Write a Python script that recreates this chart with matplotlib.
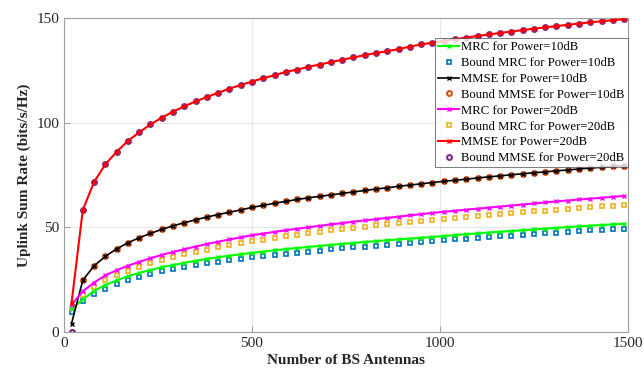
import matplotlib
matplotlib.use('Agg')
import matplotlib.pyplot as plt

plt.rcParams['font.family'] = ['Liberation Serif', 'DejaVu Serif']

# number of BS antennas
antennas = list(range(20, 1491, 30))

mrc_10 = [11.0, 15.5, 19.6, 22.4, 24.6, 26.6, 28.2, 29.6, 30.9, 32.0, 33.0, 34.0, 34.9, 35.7, 36.4, 37.1,
          37.8, 38.4, 39.0, 39.6, 40.1, 40.6, 41.1, 41.6, 42.1, 42.5, 43.0, 43.4, 43.8, 44.2, 44.6, 45.0,
          45.4, 45.8, 46.3, 46.7, 47.1, 47.5, 47.9, 48.2, 48.6, 49.0, 49.4, 49.7, 50.1, 50.4, 50.8, 51.1,
          51.4, 51.7]
bound_mrc_10 = [9.5, 14.7, 18.0, 20.7, 22.9, 24.8, 26.4, 27.8, 29.0, 30.1, 31.1, 32.0, 32.8, 33.6, 34.3, 35.0,
                35.6, 36.2, 36.8, 37.3, 37.9, 38.4, 38.9, 39.4, 39.9, 40.4, 40.8, 41.3, 41.7, 42.1, 42.6, 43.0,
                43.4, 43.8, 44.2, 44.6, 44.9, 45.3, 45.7, 46.0, 46.4, 46.7, 47.1, 47.4, 47.8, 48.1, 48.5, 48.8,
                49.1, 49.4]
mmse_10 = [4.0, 24.7, 31.6, 36.1, 39.7, 42.6, 45.0, 47.1, 49.0, 50.7, 52.2, 53.6, 54.9, 56.1, 57.2, 58.3,
           59.5, 60.5, 61.5, 62.4, 63.3, 64.1, 64.8, 65.5, 66.2, 66.9, 67.6, 68.3, 68.9, 69.6, 70.2, 70.8,
           71.4, 72.0, 72.5, 73.0, 73.6, 74.1, 74.6, 75.1, 75.6, 76.1, 76.5, 77.0, 77.4, 77.9, 78.3, 78.7,
           79.1, 79.5]
bound_mmse_10 = [0.0] + mmse_10[1:]
mrc_20 = [13.0, 19.4, 23.6, 27.0, 29.5, 31.6, 33.5, 35.2, 36.8, 38.2, 39.5, 40.8, 42.0, 43.1, 44.2, 45.2,
          46.2, 47.0, 47.8, 48.6, 49.3, 50.0, 50.7, 51.4, 52.0, 52.7, 53.3, 53.9, 54.5, 55.1, 55.7, 56.3,
          56.9, 57.4, 57.9, 58.4, 58.9, 59.4, 59.9, 60.4, 60.9, 61.4, 61.9, 62.4, 62.8, 63.3, 63.7, 64.1,
          64.6, 65.0]
bound_mrc_20 = [11.6, 17.5, 21.5, 24.7, 27.0, 29.2, 31.1, 32.8, 34.3, 35.7, 37.0, 38.2, 39.3, 40.4, 41.4, 42.4,
                43.3, 44.1, 44.9, 45.7, 46.4, 47.1, 47.8, 48.5, 49.1, 49.7, 50.3, 50.9, 51.5, 52.0, 52.5, 53.0,
                53.5, 54.0, 54.5, 55.0, 55.4, 55.9, 56.3, 56.8, 57.2, 57.6, 58.0, 58.4, 58.8, 59.2, 59.6, 60.0,
                60.4, 60.8]
mmse_20 = [13.7, 58.3, 71.7, 80.1, 86.1, 91.3, 95.4, 99.2, 102.4, 105.3, 107.8, 110.2, 112.3, 114.3,
           116.3, 118.0, 119.7, 121.3, 122.7, 124.3, 125.4, 126.7, 127.8, 129.0, 130.1, 131.2, 132.3, 133.3,
           134.2, 135.2, 136.4, 137.4, 138.3, 139.1, 139.9, 140.7, 141.5, 142.2, 142.9, 143.6, 144.3, 145.0,
           145.6, 146.2, 146.8, 147.4, 148.0, 148.5, 149.0, 149.5]
bound_mmse_20 = [0.0] + mmse_20[1:]

fig = plt.figure(figsize=(6.44, 3.70), dpi=100)
ax = fig.add_axes([0.0994, 0.103, 0.8756, 0.848])

# lines on top of the bound markers
ax.plot(antennas, mrc_10, '-x', color='#00ff00', lw=1.5, ms=2.5, mew=1, label='MRC for Power=10dB', zorder=3)
ax.plot(antennas, bound_mrc_10, 's', color='#0072bd', ms=3.5, mfc='none', mew=1.2, label='Bound MRC for Power=10dB', zorder=2)
ax.plot(antennas, mmse_10, '-x', color='black', lw=1.2, ms=2.5, mew=1, label='MMSE for Power=10dB', zorder=3)
ax.plot(antennas, bound_mmse_10, 'o', color='#d95319', ms=3.5, mfc='none', mew=1.5, label='Bound MMSE for Power=10dB', zorder=2)
ax.plot(antennas, mrc_20, '-x', color='#ff00ff', lw=1.5, ms=2.5, mew=1, label='MRC for Power=20dB', zorder=3)
ax.plot(antennas, bound_mrc_20, 's', color='#edb120', ms=3.5, mfc='none', mew=1.2, label='Bound MRC for Power=20dB', zorder=2)
ax.plot(antennas, mmse_20, '-x', color='red', lw=1.5, ms=2.5, mew=1, label='MMSE for Power=20dB', zorder=3)
ax.plot(antennas, bound_mmse_20, 'o', color='#7e2f8e', ms=3.5, mfc='none', mew=1.5, label='Bound MMSE for Power=20dB', zorder=2)

ax.set_xlim(0, 1500)
ax.set_ylim(0, 150)
ax.set_xticks([0, 500, 1000, 1500])
ax.set_yticks([0, 50, 100, 150])
ax.grid(True, color='#e6e6e6', lw=0.8)
ax.set_axisbelow(True)
for s in ax.spines.values():
    s.set_color('#a0a0a0')
ax.tick_params(direction='in', colors='#a0a0a0', labelcolor='#262626', labelsize=11, length=4)
ax.set_xlabel('Number of BS Antennas', fontsize=11, fontweight='bold', color='#262626', labelpad=3)
ax.set_ylabel('Uplink Sum Rate (bits/s/Hz)', fontsize=11, fontweight='bold', color='#262626', labelpad=4)

leg = ax.legend(loc='upper right', bbox_to_anchor=(1.0, 0.936), fontsize=9.2, frameon=True, fancybox=False,
                borderpad=0.25, labelspacing=0.3, handlelength=1.6, handletextpad=0.2, borderaxespad=0)
leg.get_frame().set_edgecolor('#404040')
leg.get_frame().set_linewidth(0.6)

fig.savefig('out.png', dpi=100)
